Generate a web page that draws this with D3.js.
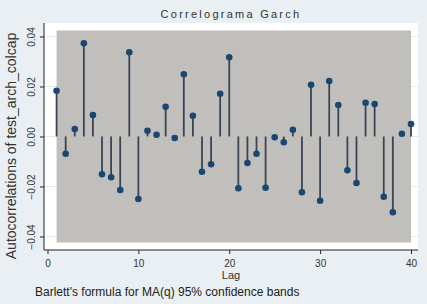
<!DOCTYPE html>
<html><head><meta charset="utf-8">
<script src="https://cdn.jsdelivr.net/npm/d3@7"></script>
<style>
html,body{margin:0;padding:0;background:#e9eff2;}
svg{display:block;font-family:"Liberation Sans",Arial,sans-serif;}
</style></head>
<body><svg id="c" width="427" height="304"></svg>
<script>
const lags = d3.range(1, 41);
const acValues = [0.0183,-0.0069,0.0030,0.0373,0.0086,-0.0151,-0.0163,-0.0214,0.0337,-0.0250,
  0.0023,0.0007,0.0119,-0.0006,0.0249,0.0083,-0.0141,-0.0111,0.0171,0.0317,
  -0.0207,-0.0106,-0.0069,-0.0205,-0.0003,-0.0023,0.0027,-0.0223,0.0207,-0.0257,
  0.0222,0.0126,-0.0135,-0.0186,0.0135,0.0130,-0.0241,-0.0303,0.0011,0.0050];
const bandValues = [0.0424,0.0424,0.0424,0.0424,0.0424,0.0424,0.0424,0.0424,0.0424,0.0424,
  0.0424,0.0424,0.0424,0.0424,0.0424,0.0424,0.0424,0.0424,0.0424,0.0424,
  0.0424,0.0424,0.0424,0.0424,0.0424,0.0424,0.0424,0.0424,0.0424,0.0424,
  0.0424,0.0424,0.0424,0.0424,0.0424,0.0424,0.0424,0.0424,0.0424,0.0424];
const yTicks = [-0.04,-0.02,0,0.02,0.04];
const xTicks = [0,10,20,30,40];
const titleText = "Correlograma Garch";
const yLabel = "Autocorrelations of test_arch_colcap";
const xLabel = "Lag";
const note = "Barlett's formula for MA(q) 95% confidence bands";

const svg = d3.select("#c");
const L=44, R=418, T=23, B=250;
const x = d3.scaleLinear().domain([-0.385, 40.77]).range([L, R]);
const y = d3.scaleLinear().domain([-0.0454, 0.0454]).range([B, T]);

svg.append("rect").attr("width",427).attr("height",304).attr("fill","#e9eff2");
svg.append("rect").attr("x",L).attr("y",T).attr("width",R-L).attr("height",B-T).attr("fill","#ffffff");

// gridlines
svg.append("g").selectAll("line").data(yTicks).join("line")
  .attr("x1",L).attr("x2",R).attr("y1",d=>y(d)).attr("y2",d=>y(d))
  .attr("stroke","#e4eaee").attr("stroke-width",1);

// band
const area = d3.area().x((d,i)=>x(lags[i])).y0((d)=>y(-d)).y1(d=>y(d));
svg.append("path").datum(bandValues).attr("d",area).attr("fill","#c1bfbc");

// stems
svg.append("g").selectAll("line").data(acValues).join("line")
  .attr("x1",(d,i)=>x(lags[i])).attr("x2",(d,i)=>x(lags[i]))
  .attr("y1",y(0)).attr("y2",d=>y(d))
  .attr("stroke","#3a4554").attr("stroke-width",1.8);
svg.append("g").selectAll("circle").data(acValues).join("circle")
  .attr("cx",(d,i)=>x(lags[i])).attr("cy",d=>y(d)).attr("r",3.3)
  .attr("fill","#1a476f");

// axes
const yAxis = d3.axisLeft(y).tickValues(yTicks).tickSize(4).tickFormat(d3.format(".2f"));
const gy = svg.append("g").attr("transform",`translate(${L},0)`).call(yAxis);
gy.select(".domain").attr("d",`M0,${T}V${B}`).attr("stroke","#222");
gy.selectAll(".tick line").attr("stroke","#222");
gy.selectAll(".tick text").attr("dy",null)
  .attr("text-anchor","middle").attr("font-size","10px").attr("fill","#333")
  .attr("transform",`translate(-12.5,0) rotate(-90)`).attr("x",0).attr("y",0).attr("dominant-baseline","central");

const xAxis = d3.axisBottom(x).tickValues(xTicks).tickSize(4).tickFormat(d3.format("d"));
const gx = svg.append("g").attr("transform",`translate(0,${B})`).call(xAxis);
gx.select(".domain").attr("d",`M${L},0H${R}`).attr("stroke","#222");
gx.selectAll(".tick line").attr("stroke","#222");
gx.selectAll(".tick text").attr("y",13).attr("dy",null).attr("dominant-baseline","central")
  .attr("font-size","10px").attr("fill","#333");

svg.append("text").attr("x",(L+R)/2).attr("y",275).attr("text-anchor","middle")
  .attr("dominant-baseline","central").attr("font-size","11px").attr("fill","#333").text(xLabel);
svg.append("text").attr("transform",`translate(11,146) rotate(-90)`).attr("text-anchor","middle")
  .attr("dominant-baseline","central").attr("font-size","14px").attr("fill","#333").text(yLabel);
svg.append("text").attr("x",(L+R)/2).attr("y",14).attr("text-anchor","middle")
  .attr("dominant-baseline","central").attr("font-size","11px").attr("letter-spacing","2.25px")
  .attr("fill","#333").text(titleText);
svg.append("text").attr("x",35).attr("y",292).attr("dominant-baseline","central")
  .attr("font-size","12px").attr("fill","#222").text(note);
</script></body></html>
